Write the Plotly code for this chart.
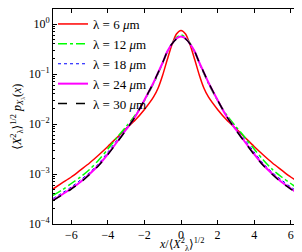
import plotly.graph_objects as go

# half-profile abscissa (curves are symmetric about x = 0)
x_half = [0, 0.25, 0.5, 0.75, 1.0, 1.25, 1.5, 2.0, 2.5, 3.0, 3.5, 4.0, 4.5, 5.0, 5.5, 6.0, 6.5, 7.0]

p_6um = [0.741, 0.631, 0.380, 0.195, 0.0955, 0.0525, 0.0347, 0.0195, 0.0120, 0.00813,
         0.00537, 0.00355, 0.00240, 0.00166, 0.00120, 0.000871, 0.000661, 0.000501]
p_12um = [0.603, 0.537, 0.407, 0.275, 0.166, 0.102, 0.0646, 0.0295, 0.0151, 0.00891,
          0.00537, 0.00316, 0.00191, 0.00123, 0.000871, 0.000646, 0.000479, 0.000372]
p_18um = [0.562, 0.513, 0.398, 0.275, 0.166, 0.105, 0.0661, 0.0302, 0.0145, 0.00813,
          0.00479, 0.00275, 0.00162, 0.00107, 0.000759, 0.000550, 0.000417, 0.000324]
p_24um = [0.562, 0.513, 0.398, 0.282, 0.170, 0.107, 0.0676, 0.0302, 0.0141, 0.00776,
          0.00437, 0.00251, 0.00151, 0.00100, 0.000692, 0.000513, 0.000389, 0.000302]
p_30um = [0.550, 0.501, 0.398, 0.282, 0.170, 0.107, 0.0676, 0.0302, 0.0141, 0.00759,
          0.00427, 0.00245, 0.00148, 0.000977, 0.000676, 0.000501, 0.000380, 0.000295]

labels = ["6", "12", "18", "24", "30"]
x_ticks = [-6, -4, -2, 0, 2, 4, 6]
x_ticktext = ["−6", "−4", "−2", "0", "2", "4", "6"]
y_ticks = [1e-4, 1e-3, 1e-2, 1e-1, 1e0]
y_ticktext = ["10<sup>−4</sup>", "10<sup>−3</sup>", "10<sup>−2</sup>", "10<sup>−1</sup>", "10<sup>0</sup>"]


def full(h):
    return [v for v in h[:0:-1]] + list(h)


x_full = [-v for v in x_half[:0:-1]] + list(x_half)

styles = [
    dict(color="#ff0000", width=1.5, dash="solid"),
    dict(color="#00ff00", width=1.5, dash="dashdot"),
    dict(color="#0000ff", width=1.0, dash="dot"),
    dict(color="#ff00ff", width=2.0, dash="solid"),
    dict(color="#000000", width=1.5, dash="dash"),
]
series = [p_6um, p_12um, p_18um, p_24um, p_30um]

FONT = "Liberation Serif, DejaVu Serif, serif"

fig = go.Figure()
for lab, s, st in zip(labels, series, styles):
    fig.add_trace(go.Scatter(
        x=x_full, y=full(s), mode="lines",
        line=dict(shape="spline", smoothing=0.8, **st),
        name=f"λ = {lab} <i>μ</i>m",
    ))

axis_common = dict(showline=True, linecolor="black", linewidth=1, mirror="ticks",
                   ticks="inside", ticklen=4, tickcolor="black", showgrid=False,
                   zeroline=False, tickfont=dict(family=FONT, size=12, color="black"))

minor_vals = [m * 10 ** e for e in range(-4, 1) for m in range(2, 10)]

fig.update_layout(
    width=302, height=252,
    margin=dict(l=45, r=1, t=1, b=36),
    paper_bgcolor="white", plot_bgcolor="white",
    font=dict(family=FONT, size=12, color="black"),
    showlegend=True,
    legend=dict(x=0.0, y=1.0, xanchor="left", yanchor="top",
                bgcolor="rgba(0,0,0,0)", borderwidth=0,
                font=dict(family=FONT, size=13), tracegroupgap=0,
                itemwidth=30),
    xaxis=dict(range=[-7, 7], tickvals=x_ticks, ticktext=x_ticktext, **axis_common),
    yaxis=dict(type="log", range=[-4, 0.3], tickvals=y_ticks, ticktext=y_ticktext,
               minor=dict(tickvals=minor_vals, ticks="inside", ticklen=2, tickcolor="black"),
               **axis_common),
    annotations=[
        dict(text="<i>x</i>/⟨<i>X</i><sup>2</sup><sub>λ</sub>⟩<sup>1/2</sup>",
             xref="paper", yref="paper", x=0.5, y=-0.095, xanchor="center", yanchor="middle",
             showarrow=False, font=dict(family=FONT, size=12)),
        dict(text="⟨<i>X</i><sup>2</sup><sub>λ</sub>⟩<sup>1/2</sup> <i>p</i><sub><i>X</i><sub>λ</sub></sub>(<i>x</i>)",
             xref="paper", yref="paper", x=-0.14, y=0.5, xanchor="center", yanchor="middle",
             textangle=-90, showarrow=False, font=dict(family=FONT, size=12)),
    ],
)

fig.write_html("out.html")
